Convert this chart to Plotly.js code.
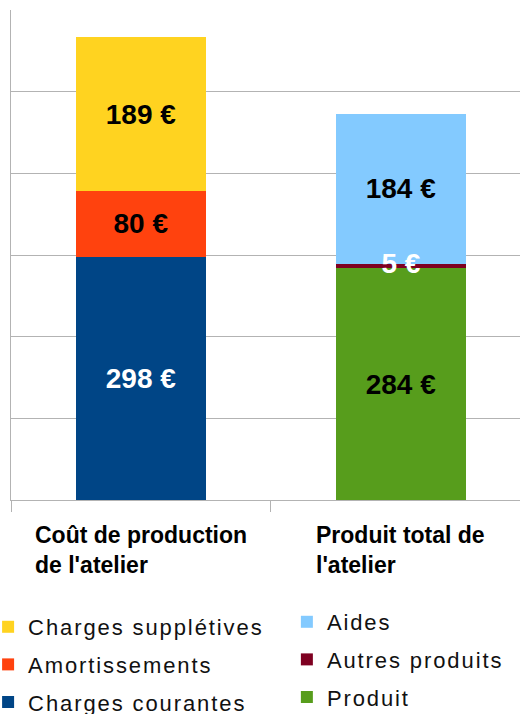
<!DOCTYPE html>
<html>
<head>
<meta charset="utf-8">
<script src="https://cdn.plot.ly/plotly-3.0.1.min.js"></script>
<style>
html, body { margin: 0; padding: 0; background: #fff; }
#chart { width: 520px; height: 714px; }
svg text.legendtext, svg text.legend2text { letter-spacing: 1.9px !important; }
</style>
</head>
<body>
<div id="chart"></div>
<script>
const categories = ["Coût de production<br>de l'atelier", "Produit total de<br>l'atelier"];

const chargesCourantes = [298, null];
const amortissements = [80, null];
const chargesSuppletives = [189, null];
const produit = [null, 284];
const autresProduits = [null, 5];
const aides = [null, 184];

const seriesNames = ["Charges courantes", "Produit", "Amortissements", "Autres produits", "Charges supplétives", "Aides"];
const seriesValues = [chargesCourantes, produit, amortissements, autresProduits, chargesSuppletives, aides];
const seriesColors = ["#004586", "#579d1c", "#ff420e", "#7e0021", "#ffd320", "#83caff"];
const labelColors = ["#ffffff", "#000000", "#000000", "#ffffff", "#000000", "#000000"];
const legendRanks = [5, 6, 3, 4, 1, 2];
const legendIds = ["legend", "legend2", "legend", "legend2", "legend", "legend2"];

const labelFont = (color) => ({ family: "Liberation Sans, Arial, sans-serif", size: 28, color: color, weight: "bold" });

const traces = seriesNames.map((name, i) => ({
  type: "bar",
  name: name,
  x: categories,
  y: seriesValues[i],
  marker: { color: seriesColors[i], line: { width: 0 } },
  width: 0.5,
  // the thin "Autres produits" slice gets its label from a text layer drawn on top
  text: seriesValues[i].map(v => (v === null || name === "Autres produits") ? "" : v + " €"),
  textposition: "inside",
  insidetextanchor: "middle",
  textangle: 0,
  constraintext: "none",
  textfont: labelFont(labelColors[i]),
  hoverinfo: "skip",
  legend: legendIds[i],
  legendrank: legendRanks[i],
  legendgroup: "g" + i
}));

// label of the thin slice, placed at the middle of its stacked segment
const thinMid = categories.map((c, k) =>
  autresProduits[k] === null ? null : (produit[k] || 0) + autresProduits[k] / 2);
traces.push({
  type: "scatter",
  mode: "text",
  x: categories,
  y: thinMid,
  text: autresProduits.map(v => v === null ? "" : v + " €"),
  textposition: "middle center",
  textfont: labelFont("#ffffff"),
  showlegend: false,
  hoverinfo: "skip",
  cliponaxis: false
});

const legendCommon = {
  orientation: "v",
  traceorder: "grouped",
  tracegroupgap: 6,
  font: { family: "Liberation Sans, Arial, sans-serif", size: 22, color: "#111111" },
  bgcolor: "rgba(0,0,0,0)",
  borderwidth: 0,
  xref: "paper",
  yref: "paper",
  xanchor: "left",
  yanchor: "top",
  itemclick: false,
  itemdoubleclick: false
};

const layout = {
  width: 520,
  height: 714,
  margin: { l: 11, r: 0, t: 10, b: 214, autoexpand: false },
  paper_bgcolor: "#ffffff",
  plot_bgcolor: "#ffffff",
  barmode: "stack",
  showlegend: true,
  legend: Object.assign({}, legendCommon, { x: -0.045, y: -0.2163 }),
  legend2: Object.assign({}, legendCommon, { x: 0.542, y: -0.2061 }),
  xaxis: {
    type: "category",
    range: [-0.5, 1.458],
    showgrid: false,
    showline: true,
    linecolor: "#b3b3b3",
    linewidth: 1,
    ticks: "outside",
    tickson: "boundaries",
    ticklen: 11,
    tickcolor: "#b3b3b3",
    tickwidth: 1,
    showticklabels: false,
    zeroline: false,
    fixedrange: true
  },
  yaxis: {
    range: [0, 600],
    dtick: 100,
    showgrid: true,
    gridcolor: "#b3b3b3",
    gridwidth: 1,
    showline: true,
    linecolor: "#b3b3b3",
    linewidth: 1,
    showticklabels: false,
    ticks: "",
    zeroline: false,
    fixedrange: true
  },
  annotations: categories.map(c => ({
    x: c,
    xref: "x",
    y: 0,
    yref: "paper",
    yanchor: "top",
    yshift: -20,
    xanchor: "center",
    align: "left",
    showarrow: false,
    text: c,
    font: { family: "Liberation Sans, Arial, sans-serif", size: 23, color: "#000000", weight: "bold" }
  }))
};

Plotly.newPlot("chart", traces, layout, { displayModeBar: false, staticPlot: true }).then(gd => {
  gd.querySelectorAll("text.legendtext, text.legend2text").forEach(t => { t.style.letterSpacing = "1.9px"; });
});
</script>
</body>
</html>
